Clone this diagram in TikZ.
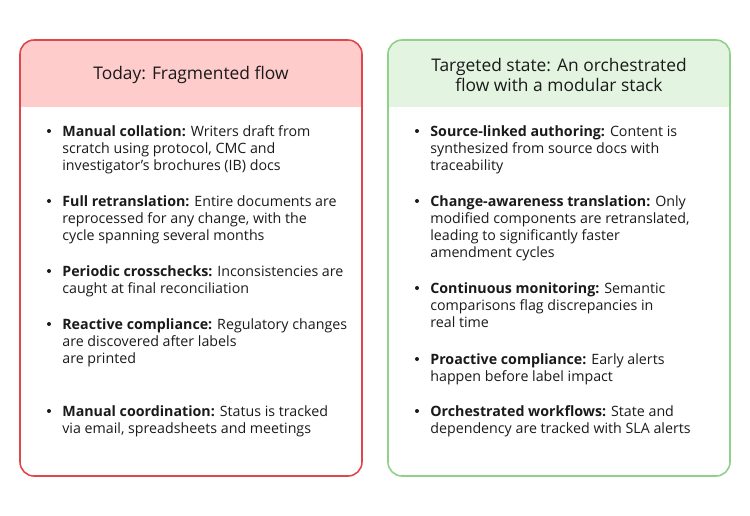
\documentclass[tikz,border=0pt]{standalone}
\usepackage{fontspec}
\setmainfont{Open Sans}
\usetikzlibrary{positioning}
\definecolor{badline}{HTML}{E0474C}
\definecolor{badfill}{HTML}{FFCCCC}
\definecolor{goodline}{HTML}{8FD18B}
\definecolor{goodfill}{HTML}{E3F5E1}
\definecolor{txt}{HTML}{1A1A1A}
\tikzset{
  item/.style={anchor=north west, inner sep=0pt, align=left, text=txt,
    font=\fontsize{8.1pt}{9.7pt}\selectfont},
  head/.style={align=center, text=txt, font=\fontsize{9.9pt}{11.6pt}\selectfont},
}
\begin{document}
\begin{tikzpicture}[x=0.02cm, y=-0.02cm, line join=round]
	\useasboundingbox (0,0) rectangle (750,515);
	% left panel
	\begin{scope}
		\clip[rounded corners=8] (20,40) rectangle (362,476);
		\fill[badfill] (20,40) rectangle (362,107);
	\end{scope}
	\draw[badline, line width=0.9pt, rounded corners=8] (20,40) rectangle (362,476);
	\node[head] (lhead) at (191,75) {Today: Fragmented flow};
	\node[item] (l1) at (62,125) {\textbf{Manual collation:} Writers draft from\\scratch using protocol, CMC and\\investigator’s brochures (IB) docs};
	\node[item] (l2) at (62,195) {\textbf{Full retranslation:} Entire documents are\\reprocessed for any change, with the\\cycle spanning several months};
	\node[item] (l3) at (62,265) {\textbf{Periodic crosschecks:} Inconsistencies are\\caught at final reconciliation};
	\node[item] (l4) at (62,318) {\textbf{Reactive compliance:} Regulatory changes\\are discovered after labels\\are printed};
	\node[item] (l5) at (62,405) {\textbf{Manual coordination:} Status is tracked\\via email, spreadsheets and meetings};
	\foreach \y in {131,201,271,324,411}
		{\fill[txt] (49,\y) circle (2);}
	% right panel
	\begin{scope}
		\clip[rounded corners=8] (388,40) rectangle (730,476);
		\fill[goodfill] (388,40) rectangle (730,107);
	\end{scope}
	\draw[goodline, line width=0.9pt, rounded corners=8] (388,40) rectangle (730,476);
	\node[head] (rhead) at (559,75) {Targeted state: An orchestrated\\flow with a modular stack};
	\node[item] (r1) at (430,125) {\textbf{Source-linked authoring:} Content is\\synthesized from source docs with\\traceability};
	\node[item] (r2) at (430,195) {\textbf{Change-awareness translation:} Only\\modified components are retranslated,\\leading to significantly faster\\amendment cycles};
	\node[item] (r3) at (430,282) {\textbf{Continuous monitoring:} Semantic\\comparisons flag discrepancies in\\real time};
	\node[item] (r4) at (430,353) {\textbf{Proactive compliance:} Early alerts\\happen before label impact};
	\node[item] (r5) at (430,405) {\textbf{Orchestrated workflows:} State and\\dependency are tracked with SLA alerts};
	\foreach \y in {131,201,288,359,411}
		{\fill[txt] (417,\y) circle (2);}
\end{tikzpicture}
\end{document}
